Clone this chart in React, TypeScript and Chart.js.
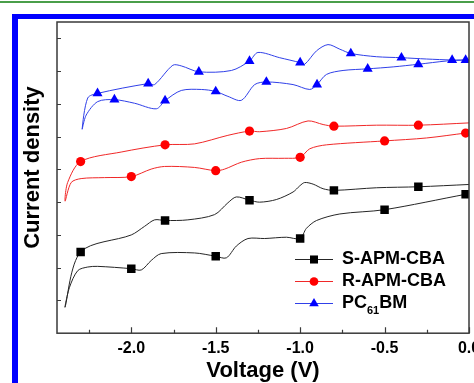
import React, { useEffect, useRef } from 'react';
import { Chart, registerables } from 'chart.js';

Chart.register(...registerables);

// ---- axis ticks ----
const xTicks = [-2.0, -1.5, -1.0, -0.5, 0.0];
const xMinorTicks = [-2.25, -1.75, -1.25, -0.75, -0.25];
const yTicks = [1, 2, 3, 4, 5, 6, 7, 8, 9];
const xMin = -2.44;
const xMax = 0;
const yMin = 0;
const yMax = 9.5;

// ---- titles / series names ----
const xTitle = 'Voltage (V)';
const yTitle = 'Current density';
const seriesNames = ['S-APM-CBA', 'R-APM-CBA', 'PC61BM'];

// ---- S-APM-CBA (black squares) ----
const sTopV = [-2.392, -2.3, -2.0, -1.922, -1.862, -1.8, -1.665, -1.507, -1.428, -1.378, -1.3, -1.24, -1.141, -1.042, -1.002, -0.973, -0.923, -0.864, -0.8, -0.547, -0.3, 0];
const sTopJ = [0.80, 2.48, 3.00, 3.26, 3.46, 3.44, 3.46, 3.62, 3.98, 4.16, 4.06, 4.00, 4.08, 4.31, 4.50, 4.60, 4.55, 4.41, 4.36, 4.44, 4.47, 4.54];
const sTopMarks = [-2.3, -1.8, -1.3, -0.8, -0.3];
const sBotV = [-2.392, -2.366, -2.317, -2.258, -2.199, -2.0, -1.941, -1.882, -1.823, -1.625, -1.5, -1.437, -1.378, -1.309, -1.21, -1.081, -1.0, -0.963, -0.903, -0.765, -0.5, -0.02, 0];
const sBotJ = [0.80, 1.40, 1.91, 2.02, 2.04, 1.97, 1.93, 2.22, 2.43, 2.45, 2.35, 2.30, 2.66, 2.89, 2.89, 2.93, 2.89, 3.20, 3.44, 3.64, 3.77, 4.24, 4.25];
const sBotMarks = [-2.0, -1.5, -1.0, -0.5, -0.02];

// ---- R-APM-CBA (red circles) ----
const rTopV = [-2.392, -2.377, -2.3, -2.06, -1.8, -1.625, -1.428, -1.3, -1.24, -1.081, -0.953, -0.864, -0.8, -0.547, -0.3, 0];
const rTopJ = [4.03, 4.60, 5.24, 5.53, 5.75, 5.78, 6.04, 6.17, 6.15, 6.25, 6.48, 6.37, 6.32, 6.35, 6.35, 6.42];
const rTopMarks = [-2.3, -1.8, -1.3, -0.8, -0.3];
const rBotV = [-2.392, -2.356, -2.297, -2.159, -2.0, -1.882, -1.803, -1.625, -1.5, -1.447, -1.348, -1.24, -1.091, -1.0, -0.943, -0.844, -0.5, -0.251, -0.02, 0];
const rBotJ = [4.03, 4.60, 4.72, 4.75, 4.78, 5.01, 5.09, 5.06, 4.96, 5.01, 5.22, 5.33, 5.34, 5.37, 5.63, 5.75, 5.87, 5.96, 6.11, 6.12];
const rBotMarks = [-2.0, -1.5, -1.0, -0.5, -0.02];

// ---- PC61BM (blue triangles) ----
const pTopV = [-2.291, -2.258, -2.2, -1.9, -1.862, -1.754, -1.704, -1.6, -1.407, -1.3, -1.25, -1.121, -1.0, -0.973, -0.903, -0.835, -0.765, -0.7, -0.547, -0.4, -0.251, -0.1, 0];
const pTopJ = [6.23, 7.18, 7.32, 7.62, 7.59, 8.18, 8.16, 7.98, 8.02, 8.31, 8.57, 8.41, 8.26, 8.21, 8.62, 8.81, 8.67, 8.54, 8.44, 8.41, 8.37, 8.34, 8.34];
const pTopMarks = [-2.2, -1.9, -1.6, -1.3, -1.0, -0.7, -0.4, -0.1];
const pBotV = [-2.291, -2.267, -2.199, -2.1, -1.981, -1.852, -1.8, -1.704, -1.585, -1.5, -1.428, -1.348, -1.269, -1.2, -1.042, -0.943, -0.9, -0.844, -0.746, -0.6, -0.449, -0.3, -0.132, -0.02, 0];
const pBotJ = [6.23, 6.66, 7.07, 7.13, 7.02, 6.85, 7.10, 7.41, 7.44, 7.38, 7.23, 7.11, 7.59, 7.67, 7.59, 7.44, 7.59, 7.90, 8.02, 8.07, 8.13, 8.21, 8.31, 8.34, 8.34];
const pBotMarks = [-2.1, -1.8, -1.5, -1.2, -0.9, -0.6, -0.3, -0.02];

const FONT = "'Liberation Sans', Arial, sans-serif";

function buildPath(topV: number[], topJ: number[], topMarks: number[], botV: number[], botJ: number[], botMarks: number[]) {
  const pts: { x: number; y: number }[] = [];
  const marks: boolean[] = [];
  for (let i = topV.length - 1; i >= 0; i--) {
    pts.push({ x: topV[i], y: topJ[i] });
    marks.push(topMarks.includes(topV[i]));
  }
  for (let i = 1; i < botV.length; i++) {
    pts.push({ x: botV[i], y: botJ[i] });
    marks.push(botMarks.includes(botV[i]));
  }
  return { pts, marks };
}

const styles = [
  { line: '#262626', fill: '#000000', pointStyle: 'rect', r: 6 },
  { line: '#f02828', fill: '#ff0000', pointStyle: 'circle', r: 4.6 },
  { line: '#3040e8', fill: '#0000ff', pointStyle: 'triangle', r: 5.8 },
];

function drawMarker(ctx: CanvasRenderingContext2D, style: string, x: number, y: number, r: number) {
  ctx.beginPath();
  if (style === 'rect') {
    const s = Math.SQRT1_2 * r;
    ctx.rect(x - s, y - s, 2 * s, 2 * s);
  } else if (style === 'circle') {
    ctx.arc(x, y, r, 0, Math.PI * 2);
  } else {
    let rad = 0;
    ctx.moveTo(x + Math.sin(rad) * r, y - Math.cos(rad) * r);
    rad += (2 * Math.PI) / 3;
    ctx.lineTo(x + Math.sin(rad) * r, y - Math.cos(rad) * r);
    rad += (2 * Math.PI) / 3;
    ctx.lineTo(x + Math.sin(rad) * r, y - Math.cos(rad) * r);
    ctx.closePath();
  }
  ctx.fill();
}

const framePlugin = {
  id: 'frameTicks',
  afterDraw(chart: any) {
    const { ctx, chartArea: a, scales } = chart;
    const x = scales.x;
    const y = scales.y;
    ctx.save();
    ctx.strokeStyle = '#3a3a3a';
    ctx.lineWidth = 1.5;
    ctx.strokeRect(a.left, a.top, a.right - a.left, a.bottom - a.top);
    ctx.lineWidth = 1.2;
    ctx.beginPath();
    xTicks.forEach((v) => {
      const px = Math.round(x.getPixelForValue(v)) + 0.5;
      ctx.moveTo(px, a.bottom);
      ctx.lineTo(px, a.bottom - 6);
    });
    xMinorTicks.forEach((v) => {
      const px = Math.round(x.getPixelForValue(v)) + 0.5;
      ctx.moveTo(px, a.bottom);
      ctx.lineTo(px, a.bottom - 3.5);
    });
    yTicks.forEach((v) => {
      const py = Math.round(y.getPixelForValue(v)) + 0.5;
      ctx.moveTo(a.left, py);
      ctx.lineTo(a.left + 4, py);
    });
    ctx.stroke();

    // y-axis title
    ctx.translate(32.5, 167.5);
    ctx.rotate(-Math.PI / 2);
    ctx.fillStyle = '#000';
    ctx.font = `bold 22px ${FONT}`;
    ctx.textAlign = 'center';
    ctx.textBaseline = 'middle';
    ctx.fillText(yTitle, 0, 0);
    ctx.restore();
  },
};

const legendPlugin = {
  id: 'customLegend',
  afterDraw(chart: any) {
    const { ctx } = chart;
    ctx.save();
    const x0 = 295;
    const x1 = 333;
    const xm = 314;
    const tx = 342;
    const y0 = 259.5;
    const step = 22;
    seriesNames.forEach((name, i) => {
      const st = styles[i];
      const yy = y0 + i * step;
      ctx.strokeStyle = st.line;
      ctx.lineWidth = 1;
      ctx.beginPath();
      ctx.moveTo(x0, yy);
      ctx.lineTo(x1, yy);
      ctx.stroke();
      ctx.fillStyle = st.fill;
      drawMarker(ctx, st.pointStyle, xm, yy, st.r * 0.95);
      ctx.fillStyle = '#000';
      ctx.textBaseline = 'middle';
      ctx.textAlign = 'left';
      ctx.font = `bold 18px ${FONT}`;
      if (name === 'PC61BM') {
        let cx = tx;
        ctx.fillText('PC', cx, yy);
        cx += ctx.measureText('PC').width;
        ctx.font = `bold 11px ${FONT}`;
        ctx.fillText('61', cx, yy + 7);
        cx += ctx.measureText('61').width;
        ctx.font = `bold 18px ${FONT}`;
        ctx.fillText('BM', cx, yy);
      } else {
        ctx.fillText(name, tx, yy);
      }
    });
    ctx.restore();
  },
};

export default function App() {
  const ref = useRef<HTMLCanvasElement>(null);

  useEffect(() => {
    const s = buildPath(sTopV, sTopJ, sTopMarks, sBotV, sBotJ, sBotMarks);
    const r = buildPath(rTopV, rTopJ, rTopMarks, rBotV, rBotJ, rBotMarks);
    const p = buildPath(pTopV, pTopJ, pTopMarks, pBotV, pBotJ, pBotMarks);
    const all = [s, r, p];

    const datasets = all.map((d, i) => ({
      label: seriesNames[i],
      data: d.pts,
      borderColor: styles[i].line,
      borderWidth: 1,
      backgroundColor: styles[i].fill,
      pointBackgroundColor: styles[i].fill,
      pointBorderColor: styles[i].fill,
      pointBorderWidth: 0,
      pointStyle: styles[i].pointStyle,
      pointRadius: (ctx: any) => (d.marks[ctx.dataIndex] ? styles[i].r : 0),
      pointHoverRadius: (ctx: any) => (d.marks[ctx.dataIndex] ? styles[i].r : 0),
      tension: 0.3,
      fill: false,
    }));

    Chart.defaults.font.family = FONT;

    const chart = new Chart(ref.current as HTMLCanvasElement, {
      type: 'line',
      data: { datasets: datasets as any },
      options: {
        responsive: false,
        animation: false,
        devicePixelRatio: 1,
        layout: { padding: { left: 57, top: 22, right: 5, bottom: 0 } },
        plugins: { legend: { display: false }, tooltip: { enabled: false } },
        scales: {
          x: {
            type: 'linear',
            min: xMin,
            max: xMax,
            afterBuildTicks: (sc: any) => {
              sc.ticks = xTicks.map((v) => ({ value: v }));
            },
            afterFit: (sc: any) => {
              sc.paddingLeft = 0;
              sc.paddingRight = 0;
            },
            grid: { display: false, drawTicks: false },
            border: { display: false },
            ticks: {
              padding: 6,
              color: '#000',
              font: { size: 16, weight: 'bold', family: FONT },
              maxRotation: 0,
              autoSkip: false,
              callback: (v: any) => Number(v).toFixed(1),
            },
            title: {
              display: true,
              text: xTitle,
              color: '#000',
              font: { size: 22, weight: 'bold', family: FONT, lineHeight: 1.1 },
              padding: { top: -5.6, bottom: 0 },
            },
          },
          y: {
            type: 'linear',
            min: yMin,
            max: yMax,
            afterFit: (sc: any) => {
              sc.paddingTop = 0;
              sc.paddingBottom = 0;
              sc.width = 0;
            },
            ticks: { display: false },
            grid: { display: false, drawTicks: false },
            border: { display: false },
            title: { display: false },
          },
        },
      } as any,
      plugins: [framePlugin, legendPlugin],
    });
    return () => chart.destroy();
  }, []);

  return (
    <div style={{ position: 'absolute', left: 0, top: 0, width: 474, height: 383, overflow: 'hidden', background: '#fff' }}>
      <div style={{ position: 'absolute', left: 0, top: 1, width: 474, height: 2, background: '#4a9e4a' }} />
      <div
        style={{
          position: 'absolute',
          left: 12,
          top: 14,
          width: 480,
          height: 400,
          borderLeft: '6px solid #0000ff',
          borderTop: '5px solid #0000ff',
        }}
      />
      <canvas ref={ref} width={474} height={383} style={{ position: 'absolute', left: 0, top: 0, width: 474, height: 383 }} />
    </div>
  );
}
